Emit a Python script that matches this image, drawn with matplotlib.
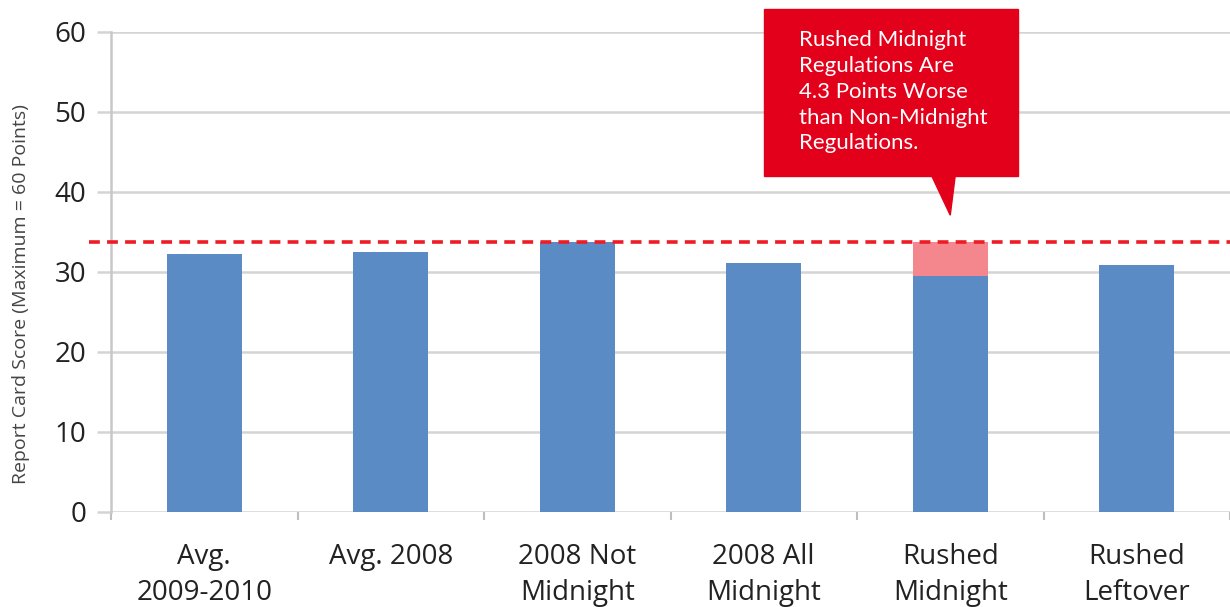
import matplotlib.pyplot as plt
from matplotlib.patches import Polygon, Rectangle

categories = ['Avg.\n2009-2010', 'Avg. 2008', '2008 Not\nMidnight', '2008 All\nMidnight',
              'Rushed\nMidnight', 'Rushed\nLeftover']
scores = [32.2, 32.5, 33.8, 31.1, 29.5, 30.9]
non_midnight = 33.8
gap_index = 4
callout = 'Rushed Midnight\nRegulations Are\n4.3 Points Worse\nthan Non-Midnight\nRegulations.'

plt.rcParams['font.family'] = ['Open Sans', 'DejaVu Sans']

fig = plt.figure(figsize=(12.3, 6.07), dpi=100)
ax = fig.add_axes([111 / 1230, 95 / 607, 1119 / 1230, 480 / 607])

x = list(range(len(categories)))
ax.bar(x, scores, width=0.4, color='#5B8BC5', zorder=3)
# the gap between rushed midnight and non-midnight rules
ax.bar(gap_index, non_midnight - scores[gap_index], bottom=scores[gap_index], width=0.4,
       color='#F4878D', zorder=3)
ax.axhline(non_midnight, color='#EE1C25', linestyle=(0, (3, 2)), linewidth=2.6, zorder=4,
           xmin=-0.02, clip_on=False)

ax.set_xlim(-0.5, 5.452)
ax.set_ylim(0, 60)
ax.set_yticks(range(0, 61, 10))
ax.grid(axis='y', color='#d4d4d4', linewidth=1.8, zorder=0)
ax.set_xticks([i - 0.5 for i in range(7)], minor=True)
ax.set_xticks(x)
ax.set_xticklabels(categories, fontsize=20, color='#222222', linespacing=1.4)
ax.tick_params(axis='x', which='major', length=0, pad=22)
ax.tick_params(axis='x', which='minor', length=6, color='#bfbfbf', width=1.5)
ax.tick_params(axis='y', length=10, color='#d4d4d4', width=1.8, labelsize=20,
               labelcolor='#222222', pad=8)
for s in ['top', 'right', 'bottom']:
    ax.spines[s].set_visible(False)
ax.spines['left'].set_color('#c8c8c8')
ax.spines['left'].set_linewidth(1.8)
ax.set_ylabel('Report Card Score (Maximum = 60 Points)', fontsize=14, color='#444444')
ax.yaxis.set_label_coords(-0.072, 0.455)

# callout box
ax.add_patch(Rectangle((3.0, 42.0), 1.362, 20.9, color='#E2001A', zorder=5, clip_on=False))
ax.add_patch(Polygon([(3.899, 42.1), (4.027, 42.1), (4.0, 37.1)], closed=True,
                     color='#E2001A', zorder=5, clip_on=False))
ax.text(3.19, 60.2, callout, color='white', fontsize=16, va='top', ha='left',
        linespacing=1.36, zorder=6, family=['Lato', 'DejaVu Sans'])

fig.savefig('out.png', dpi=100)
